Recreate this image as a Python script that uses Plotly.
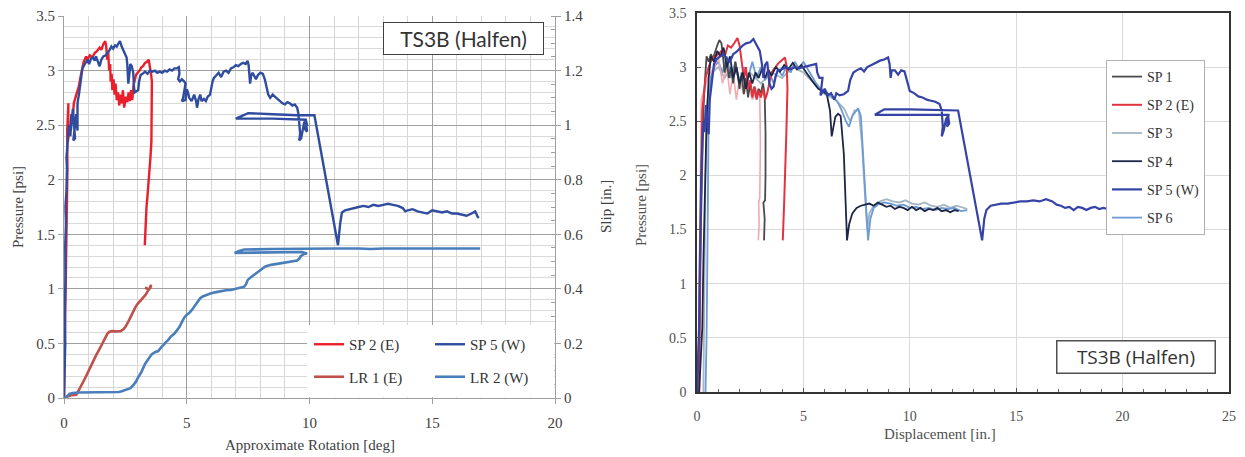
import plotly.graph_objects as go

# ---------------- LEFT CHART DATA (rotation [deg], pressure [psi] / slip [in.]) -------------
L_SP2_X = [0, 0.02, 0.03, 0.05, 0.06, 0.08, 0.1, 0.12, 0.1, 0.14, 0.13, 0.18, 0.16, 0.22, 0.25, 0.3, 0.35, 0.4, 0.5, 0.6,
           0.68, 0.75, 0.8, 0.9, 0.95, 1.05, 1.15, 1.25, 1.35, 1.45, 1.52, 1.6, 1.68, 1.72, 1.76, 1.8, 1.84, 1.88, 1.9, 1.94,
           1.97, 2.02, 2.06, 2.1, 2.15, 2.2, 2.25, 2.3, 2.35, 2.4, 2.45, 2.52, 2.58, 2.63, 2.68, 2.73, 2.78, 2.83, 2.88, 2.93,
           3.0, 3.08, 3.15, 3.22, 3.3, 3.38, 3.45, 3.5, 3.55, 3.58, 3.57, 3.58, 3.55, 3.56, 3.52, 3.48, 3.45, 3.4, 3.36, 3.33,
           3.31, 3.3, 3.29]
L_SP2_P = [0, 0.3, 0.6, 1.0, 1.3, 1.5, 1.7, 1.9, 1.75, 2.1, 2.45, 2.7, 2.35, 2.5, 2.4, 2.6, 2.55, 2.7, 2.78, 2.85,
           2.95, 3.02, 3.08, 3.13, 3.1, 3.14, 3.12, 3.16, 3.18, 3.21, 3.19, 3.24, 3.27, 3.22, 3.1, 3.17, 3.0, 3.06, 2.9, 2.97,
           2.82, 2.92, 2.78, 2.88, 2.73, 2.8, 2.68, 2.78, 2.7, 2.82, 2.66, 2.76, 2.71, 2.8, 2.72, 2.82, 2.73, 2.86, 2.9, 2.96,
           2.98, 3.0, 3.03, 3.04, 3.07, 3.08, 3.1, 3.04, 2.96, 2.9, 2.75, 2.6, 2.42, 2.35, 2.2, 2.05, 1.95, 1.85, 1.75, 1.65,
           1.55, 1.45, 1.4]

L_SP5_X = [0, 0.02, 0.05, 0.03, 0.06, 0.05, 0.08, 0.06, 0.1, 0.12, 0.1, 0.15, 0.2, 0.25, 0.3, 0.28, 0.36, 0.4, 0.45, 0.38,
           0.5, 0.55, 0.55, 0.62, 0.66, 0.72, 0.75, 0.82, 0.9, 0.96, 1.02, 1.1, 1.18, 1.25, 1.3, 1.38, 1.45, 1.52, 1.6, 1.7,
           1.78, 1.86, 1.93, 2.0, 2.08, 2.15, 2.22, 2.28, 2.35, 2.42, 2.5, 2.55, 2.58, 2.6, 2.62, 2.66, 2.7, 2.76, 2.82, 2.85,
           2.88, 2.95, 3.02, 3.06, 3.12, 3.2, 3.3, 3.4, 3.5, 3.6, 3.7, 3.8, 3.9, 4.0, 4.1, 4.2, 4.3, 4.4, 4.5, 4.6,
           4.68, 4.7, 4.65, 4.72, 4.8, 4.9, 4.95, 4.85, 4.8, 4.95, 5.0, 5.05, 5.1, 5.2, 5.3, 5.38, 5.42, 5.48, 5.55, 5.6,
           5.7, 5.78, 5.85, 5.95, 6.0, 6.05, 6.1, 6.2, 6.3, 6.4, 6.5, 6.6, 6.7, 6.8, 6.9, 7.0, 7.1, 7.2, 7.3, 7.4,
           7.48, 7.52, 7.56, 7.58, 7.62, 7.68, 7.75, 7.82, 7.9, 8.0, 8.1, 8.18, 8.25, 8.32, 8.4, 8.5, 8.6, 8.7, 8.8, 8.9,
           9.0, 9.1, 9.2, 9.3, 9.4, 9.5, 9.55, 9.6, 9.62, 9.58, 9.66, 9.72, 9.78, 9.85, 9.9, 9.8, 9.9, 9.85, 8.5, 7.0,
           7.2, 7.5, 8.5, 9.5, 10.2, 11.16, 11.25, 11.32, 11.45, 11.6, 11.8, 12.0, 12.2, 12.4, 12.6, 12.8, 13.0, 13.2, 13.4, 13.6,
           13.8, 13.9, 14.0, 14.2, 14.4, 14.6, 14.8, 15.0, 15.2, 15.4, 15.6, 15.8, 16.0, 16.2, 16.4, 16.6, 16.75, 16.85, 16.9]
L_SP5_P = [0, 0.2, 0.5, 0.8, 1.1, 1.4, 1.6, 1.75, 1.9, 2.1, 2.2, 2.35, 2.5, 2.4, 2.6, 2.45, 2.65, 2.5, 2.38, 2.36,
           2.6, 2.45, 2.7, 2.8, 2.88, 2.95, 3.02, 3.05, 3.08, 3.1, 3.06, 3.11, 3.12, 3.09, 3.13, 3.07, 3.04, 3.1, 3.13, 3.14,
           3.16, 3.19, 3.22, 3.2, 3.23, 3.22, 3.25, 3.27, 3.22, 3.18, 3.15, 3.12, 3.05, 2.95, 2.88, 2.96, 3.06, 3.04, 2.98, 2.85,
           2.8, 2.81, 2.82, 2.9, 2.96, 2.97, 2.99, 2.97, 3.0, 2.99, 3.0, 2.98, 2.99, 2.98, 3.0, 2.99, 3.01, 3.0, 3.02, 3.02,
           3.03, 2.97, 2.92, 2.9, 2.92, 2.9, 2.88, 2.75, 2.72, 2.73, 2.83, 2.8, 2.75, 2.72, 2.78, 2.72, 2.66, 2.74, 2.78, 2.72,
           2.74, 2.72, 2.76, 2.78, 2.85, 2.9, 2.93, 2.96, 2.98, 2.94, 2.99, 3.0, 2.98, 3.02, 3.03, 3.05, 3.04, 3.06, 3.07, 3.06,
           3.09, 3.05, 2.97, 2.88, 2.95, 2.98, 2.95, 2.92, 2.96, 2.98, 2.97, 2.92, 2.85, 2.78, 2.75, 2.78, 2.76, 2.74, 2.72, 2.7,
           2.69, 2.71, 2.7, 2.68, 2.69, 2.66, 2.6, 2.5, 2.42, 2.36, 2.38, 2.45, 2.52, 2.55, 2.5, 2.47, 2.44, 2.55, 2.56, 2.56,
           2.58, 2.61, 2.6, 2.59, 2.59, 1.4, 1.6, 1.7, 1.72, 1.73, 1.74, 1.75, 1.76, 1.75, 1.77, 1.76, 1.77, 1.78, 1.77, 1.76,
           1.74, 1.71, 1.72, 1.73, 1.71, 1.7, 1.69, 1.72, 1.71, 1.7, 1.71, 1.69, 1.69, 1.68, 1.67, 1.69, 1.71, 1.66, 1.65]

L_LR1_X = [0, 0.1, 0.3, 0.5, 0.55, 0.65, 0.76, 0.9, 1.03, 1.15, 1.3, 1.45, 1.57, 1.68, 1.77, 1.85, 1.95, 2.1, 2.3, 2.42,
           2.51, 2.62, 2.71, 2.8, 2.91, 3.0, 3.11, 3.22, 3.32, 3.4, 3.48, 3.55, 3.52, 3.45, 3.35, 3.3]
L_LR1_S = [0, 0.005, 0.01, 0.012, 0.02, 0.035, 0.055, 0.08, 0.105, 0.13, 0.155, 0.18, 0.2, 0.222, 0.236, 0.243, 0.245, 0.244, 0.245, 0.252,
           0.262, 0.28, 0.298, 0.315, 0.333, 0.345, 0.356, 0.367, 0.378, 0.39, 0.4, 0.415, 0.405, 0.398, 0.402, 0.405]

L_LR2_X = [0, 0.1, 0.22, 0.35, 0.6, 1.0, 1.5, 2.0, 2.24, 2.35, 2.44, 2.6, 2.71, 2.8, 2.9, 3.04, 3.15, 3.3, 3.45, 3.57,
           3.7, 3.84, 3.95, 4.04, 4.15, 4.24, 4.35, 4.5, 4.6, 4.7, 4.8, 4.91, 5.0, 5.11, 5.2, 5.31, 5.4, 5.45, 5.55, 5.65,
           5.8, 5.99, 6.2, 6.39, 6.6, 6.8, 7.0, 7.2, 7.34, 7.42, 7.48, 7.6, 7.75, 7.9, 8.02, 8.2, 8.43, 8.7, 9.1, 9.3,
           9.5, 9.6, 9.64, 9.78, 9.9, 9.7, 8.5, 6.95, 7.1, 7.34, 8.5, 9.8, 10.3, 11.0, 12.0, 12.5, 13.0, 14.0, 15.0, 16.0, 16.95]
L_LR2_S = [0, 0.003, 0.015, 0.018, 0.02, 0.02, 0.02, 0.021, 0.022, 0.025, 0.028, 0.032, 0.036, 0.045, 0.055, 0.078, 0.095, 0.125, 0.145, 0.16,
           0.168, 0.172, 0.185, 0.196, 0.205, 0.212, 0.225, 0.236, 0.248, 0.26, 0.278, 0.296, 0.305, 0.312, 0.322, 0.336, 0.348, 0.356, 0.366, 0.372,
           0.378, 0.384, 0.388, 0.392, 0.395, 0.396, 0.4, 0.404, 0.408, 0.418, 0.432, 0.442, 0.452, 0.464, 0.472, 0.482, 0.488, 0.492, 0.496, 0.5,
           0.504, 0.512, 0.52, 0.528, 0.53, 0.535, 0.534, 0.532, 0.538, 0.544, 0.546, 0.548, 0.548, 0.548, 0.548, 0.546, 0.548, 0.548, 0.549, 0.549, 0.548]

# ---------------- RIGHT CHART DATA (displacement [in.], pressure [psi]) -------------
R_SP1_X = [0, 0.1, 0.15, 0.2, 0.25, 0.3, 0.38, 0.45, 0.55, 0.65, 0.75, 0.85, 0.95, 1.05, 1.15, 1.22, 1.3, 1.4, 1.5, 1.6,
           1.7, 1.8, 1.9, 2.0, 2.1, 2.2, 2.3, 2.4, 2.5, 2.6, 2.7, 2.8, 2.9, 3.0, 3.1, 3.18, 3.22, 3.22, 3.2, 3.12, 3.18, 3.15]
R_SP1_P = [0, 0.5, 1.2, 1.8, 2.3, 2.6, 2.9, 3.1, 3.05, 3.12, 3.08, 3.15, 3.2, 3.25, 3.22, 3.1, 2.95, 3.05, 2.9, 3.0,
           2.85, 3.05, 2.95, 2.8, 2.95, 2.75, 2.9, 2.72, 2.85, 2.75, 2.82, 2.72, 2.8, 2.76, 2.85, 2.75, 2.4, 2.0, 1.77, 1.75, 1.6, 1.4]

R_FAINT_X = [0.05, 0.12, 0.2, 0.5, 0.8, 1.0, 1.2, 1.4, 1.55, 1.7, 1.85, 2.0, 2.2, 2.4, 2.6, 2.8, 2.95, 2.98, 2.95, 2.9, 2.92, 2.88]
R_FAINT_P = [0, 1.5, 2.7, 2.9, 3.0, 3.1, 2.85, 3.0, 2.75, 2.95, 2.7, 2.9, 2.75, 2.85, 2.7, 2.8, 2.72, 2.3, 1.8, 1.75, 1.55, 1.4]

R_SP2_X = [0.1, 0.15, 0.2, 0.25, 0.3, 0.4, 0.55, 0.7, 0.85, 1.0, 1.15, 1.3, 1.45, 1.6, 1.75, 1.9, 2.0, 2.1, 2.2, 2.3,
           2.4, 2.5, 2.6, 2.7, 2.8, 2.9, 3.0, 3.1, 3.2, 3.3, 3.4, 3.5, 3.6, 3.7, 3.8, 3.9, 4.0, 4.13, 4.22, 4.25,
           4.2, 4.15, 4.1, 4.05, 4.03]
R_SP2_P = [0, 1.2, 2.0, 2.6, 2.7, 2.9, 3.0, 3.08, 3.1, 3.12, 3.15, 3.1, 3.2, 3.18, 3.22, 3.27, 3.2, 3.05, 2.9, 3.0,
           2.8, 2.88, 2.72, 2.82, 2.7, 2.78, 2.72, 2.8, 2.7, 2.76, 2.86, 2.95, 2.98, 3.0, 3.03, 3.05, 3.07, 3.09, 3.0, 2.8,
           2.4, 2.0, 1.77, 1.5, 1.4]

R_SP3_X = [0.3, 0.35, 0.4, 0.5, 0.7, 1.0, 1.3, 1.6, 2.0, 2.5, 3.0, 3.5, 4.0, 4.5, 5.0, 5.5, 6.0, 6.5, 6.9, 7.2,
           7.4, 7.6, 7.75, 7.9, 8.0, 8.1, 8.3, 8.6, 8.9, 9.2, 9.5, 9.8, 10.1, 10.4, 10.7, 11.0, 11.3, 11.6, 11.9, 12.2,
           12.5, 12.7]
R_SP3_P = [0, 1.0, 2.0, 2.7, 2.95, 3.0, 2.9, 3.0, 2.9, 2.95, 2.85, 2.95, 2.9, 3.0, 2.95, 2.85, 2.75, 2.7, 2.62, 2.5,
           2.6, 2.6, 2.3, 1.8, 1.5, 1.65, 1.72, 1.76, 1.78, 1.76, 1.75, 1.77, 1.74, 1.73, 1.75, 1.72, 1.71, 1.73, 1.7, 1.72,
           1.7, 1.69]

R_SP4_X = [0.1, 0.2, 0.25, 0.3, 0.4, 0.45, 0.55, 0.65, 0.8, 0.95, 1.1, 1.25, 1.4, 1.55, 1.7, 1.85, 2.0, 2.15, 2.3, 2.45,
           2.6, 2.75, 2.9, 3.05, 3.2, 3.35, 3.5, 3.7, 3.9, 4.1, 4.3, 4.5, 4.7, 4.9, 5.1, 5.3, 5.5, 5.7, 5.9, 6.1,
           6.25, 6.33, 6.4, 6.5, 6.63, 6.75, 6.9, 7.0, 7.05, 7.15, 7.3, 7.5, 7.7, 7.9, 8.1, 8.3, 8.5, 8.7, 8.9, 9.1,
           9.3, 9.5, 9.7, 9.9, 10.1, 10.3, 10.5, 10.7, 10.9, 11.1, 11.3, 11.5, 11.7, 11.9, 12.1, 12.3]
R_SP4_P = [0, 0.35, 0.6, 1.2, 2.0, 2.5, 2.9, 3.1, 3.05, 3.15, 3.1, 3.18, 3.0, 3.1, 2.9, 3.0, 2.85, 2.95, 2.8, 2.95,
           2.85, 2.95, 2.9, 2.98, 2.9, 2.98, 2.92, 3.0, 2.96, 3.02, 2.98, 3.04, 2.98, 3.02, 2.96, 2.9, 2.85, 2.8, 2.78, 2.75,
           2.6, 2.36, 2.45, 2.54, 2.57, 2.55, 2.2, 1.7, 1.4, 1.55, 1.65, 1.7, 1.72, 1.73, 1.74, 1.72, 1.75, 1.73, 1.71, 1.72,
           1.69, 1.71, 1.7, 1.68, 1.71, 1.68, 1.7, 1.67, 1.69, 1.68, 1.7, 1.67, 1.68, 1.66, 1.68, 1.67]

R_SP5_X = [0, 0.05, 0.1, 0.12, 0.15, 0.2, 0.25, 0.3, 0.35, 0.42, 0.5, 0.55, 0.6, 0.7, 0.8, 0.95, 1.1, 1.25, 1.4, 1.55,
           1.7, 1.85, 2.0, 2.15, 2.3, 2.5, 2.65, 2.8, 2.95, 3.05, 3.12, 3.2, 3.3, 3.4, 3.5, 3.6, 3.7, 3.8, 4.0, 4.2,
           4.4, 4.6, 4.8, 5.0, 5.2, 5.4, 5.6, 5.65, 5.75, 5.9, 5.8, 6.0, 6.15, 6.3, 6.45, 6.55, 6.7, 6.9, 7.1, 7.2,
           7.35, 7.5, 7.7, 7.85, 8.0, 8.2, 8.4, 8.6, 8.8, 8.98, 9.05, 9.1, 9.15, 9.3, 9.45, 9.6, 9.75, 9.9, 10.0, 10.2,
           10.4, 10.6, 10.8, 11.0, 11.2, 11.4, 11.5, 11.55, 11.5, 11.6, 11.7, 11.8, 11.85, 11.75, 11.82, 10.0, 8.36, 8.8, 10.0, 12.27,
           13.4, 13.5, 13.6, 13.8, 14.0, 14.3, 14.6, 14.9, 15.2, 15.5, 15.8, 16.1, 16.4, 16.7, 16.9, 17.1, 17.3, 17.5, 17.7, 17.9,
           18.1, 18.3, 18.5, 18.7, 18.9, 19.1, 19.3]
R_SP5_P = [0, 0.35, 0.6, 1.0, 1.5, 2.0, 2.3, 2.5, 2.4, 2.65, 2.45, 2.38, 2.7, 2.9, 3.03, 3.08, 3.1, 3.12, 3.08, 3.05,
           3.12, 3.14, 3.17, 3.2, 3.22, 3.23, 3.26, 3.2, 3.15, 3.03, 2.9, 3.02, 3.05, 2.85, 2.8, 2.82, 2.92, 2.97, 2.98, 3.0,
           2.98, 3.0, 2.99, 3.0, 3.01, 3.02, 3.03, 2.95, 2.9, 2.9, 2.74, 2.8, 2.74, 2.76, 2.7, 2.76, 2.74, 2.75, 2.78, 2.88,
           2.95, 2.97, 2.99, 2.96, 3.0, 3.02, 3.04, 3.06, 3.07, 3.09, 3.03, 2.9, 2.97, 2.97, 2.93, 2.97, 2.96, 2.86, 2.78, 2.76,
           2.73, 2.72, 2.7, 2.69, 2.68, 2.66, 2.6, 2.45, 2.36, 2.42, 2.52, 2.55, 2.48, 2.45, 2.56, 2.56, 2.56, 2.61, 2.61, 2.6,
           1.4, 1.6, 1.68, 1.72, 1.73, 1.74, 1.74, 1.75, 1.76, 1.76, 1.77, 1.76, 1.78, 1.76, 1.73, 1.72, 1.7, 1.71, 1.68, 1.71,
           1.7, 1.68, 1.7, 1.71, 1.69, 1.7, 1.69]

R_SP6_X = [0.4, 0.45, 0.5, 0.52, 0.55, 0.65, 0.8, 1.0, 1.2, 1.4, 1.6, 1.8, 2.0, 2.2, 2.4, 2.6, 2.8, 3.0, 3.2, 3.4,
           3.6, 3.8, 4.0, 4.2, 4.4, 4.6, 4.8, 5.0, 5.2, 5.4, 5.6, 5.8, 6.0, 6.2, 6.4, 6.6, 6.8, 7.0, 7.14, 7.3,
           7.57, 7.7, 7.85, 7.95, 8.04, 8.15, 8.3, 8.5, 8.8, 9.1, 9.4, 9.7, 10.0, 10.3, 10.6, 10.9, 11.2, 11.5, 11.8, 12.1,
           12.4, 12.7]
R_SP6_P = [0, 0.5, 1.5, 2.2, 2.6, 2.9, 3.0, 3.05, 2.95, 3.1, 2.9, 3.05, 2.85, 3.0, 2.9, 3.05, 2.9, 3.0, 2.88, 2.95,
           2.85, 2.98, 2.92, 3.0, 2.95, 3.05, 2.98, 3.05, 2.98, 2.92, 2.85, 2.8, 2.78, 2.75, 2.72, 2.68, 2.6, 2.5, 2.45, 2.55,
           2.62, 2.55, 2.1, 1.7, 1.4, 1.6, 1.7, 1.73, 1.75, 1.74, 1.72, 1.73, 1.7, 1.71, 1.69, 1.7, 1.68, 1.7, 1.69, 1.7,
           1.67, 1.68]

LEFT_XTICKS = [0, 5, 10, 15, 20]
RIGHT_XTICKS = [0, 5, 10, 15, 20, 25]

W, H = 1245, 457
SERIF = "Liberation Serif"

fig = go.Figure()

def add(x, y, name, color, width, xa, ya, legend, rank, show=True, group=None):
    fig.add_trace(go.Scatter(x=x, y=y, mode="lines", name=name,
                             line=dict(color=color, width=width),
                             xaxis=xa, yaxis=ya, legend=legend, legendrank=rank,
                             legendgroup=group or name, showlegend=show,
                             hoverinfo="skip"))

# left chart
add(L_LR1_X, L_LR1_S, "LR 1 (E)", "#c0504d", 2.6, "x", "y2", "legend", 2)
add(L_LR2_X, L_LR2_S, "LR 2 (W)", "#4a7ebb", 2.6, "x", "y2", "legend2", 2)
add(L_SP2_X, L_SP2_P, "SP 2 (E)", "#ea1f2b", 2.4, "x", "y", "legend", 1)
add(L_SP5_X, L_SP5_P, "SP 5 (W)", "#2f4c9f", 2.4, "x", "y", "legend2", 1)

# right chart
add(R_SP3_X, R_SP3_P, "SP 3", "#a3b6c2", 1.8, "x2", "y3", "legend3", 3)
add(R_SP6_X, R_SP6_P, "SP 6", "#6d9bd2", 1.8, "x2", "y3", "legend3", 6)
add(R_FAINT_X, R_FAINT_P, "faint", "#f0aab2", 1.6, "x2", "y3", "legend3", 9, show=False)
add(R_SP1_X, R_SP1_P, "SP 1", "#4a4a4a", 1.8, "x2", "y3", "legend3", 1)
add(R_SP2_X, R_SP2_P, "SP 2 (E)", "#e2343f", 2.0, "x2", "y3", "legend3", 2, group="r2")
add(R_SP4_X, R_SP4_P, "SP 4", "#1d2548", 1.8, "x2", "y3", "legend3", 4)
add(R_SP5_X, R_SP5_P, "SP 5 (W)", "#3543a6", 2.2, "x2", "y3", "legend3", 5, group="r5")

tickfont = dict(family=SERIF, size=15, color="#404040")
rtickfont = dict(family=SERIF, size=14, color="#505050")

fig.update_layout(
    width=W, height=H, margin=dict(l=0, r=0, t=0, b=0, autoexpand=False),
    paper_bgcolor="white", plot_bgcolor="rgba(0,0,0,0)",
    xaxis=dict(domain=[64 / W, 555 / W], range=[0, 20], tickvals=LEFT_XTICKS, anchor="y", automargin=False,
               showgrid=True, gridcolor="#a0a0a0", gridwidth=1,
               minor=dict(dtick=1, showgrid=True, gridcolor="#d6d6d6", gridwidth=1),
               showline=True, linecolor="#a0a0a0", linewidth=1, zeroline=False,
               ticks="outside", ticklen=5, tickcolor="#a0a0a0", tickfont=tickfont,
               ticklabelstandoff=6),
    yaxis=dict(domain=[(H - 398) / H, (H - 16) / H], range=[0, 3.5], dtick=0.5, anchor="x", automargin=False,
               showgrid=True, gridcolor="#a0a0a0", gridwidth=1,
               minor=dict(dtick=0.1, showgrid=True, gridcolor="#d9d9d9", gridwidth=1),
               showline=True, linecolor="#a0a0a0", linewidth=1, zeroline=False,
               ticks="outside", ticklen=5, tickcolor="#a0a0a0", tickfont=tickfont,
               tickformat="~g"),
    yaxis2=dict(overlaying="y", side="right", anchor="x", range=[0, 1.4], dtick=0.2, automargin=False,
                showgrid=False, showline=True, linecolor="#a0a0a0", linewidth=1, zeroline=False,
                ticks="outside", ticklen=5, tickcolor="#a0a0a0", tickfont=tickfont, tickformat="~g",
                minor=dict(dtick=0.05, ticks="inside", ticklen=4, tickcolor="#a0a0a0", showgrid=False)),
    xaxis2=dict(domain=[697 / W, 1229 / W], range=[0, 25], tickvals=RIGHT_XTICKS, anchor="y3", automargin=False,
                showgrid=True, gridcolor="#dadada", gridwidth=1,
                minor=dict(dtick=1, ticks="inside", ticklen=3, tickcolor="#666", showgrid=False),
                showline=True, mirror=True, linecolor="#333333", linewidth=1.5, zeroline=False,
                ticks="inside", ticklen=4, tickcolor="#555", tickfont=rtickfont, ticklabelstandoff=10),
    yaxis3=dict(domain=[(H - 392) / H, (H - 13) / H], range=[0, 3.5], dtick=0.5, anchor="x2", automargin=False,
                showgrid=True, gridcolor="#dadada", gridwidth=1,
                showline=True, mirror=True, linecolor="#333333", linewidth=1.5, zeroline=False,
                ticks="inside", ticklen=4, tickcolor="#555", tickfont=rtickfont, tickformat="~g",
                ticklabelstandoff=6),
    legend=dict(x=309 / W, y=(H - 328) / H, xanchor="left", yanchor="top", bgcolor="rgba(0,0,0,0)",
                font=dict(family=SERIF, size=15, color="#333"), itemwidth=30, tracegroupgap=10,
                traceorder="grouped"),
    legend2=dict(x=430 / W, y=(H - 328) / H, xanchor="left", yanchor="top", bgcolor="rgba(0,0,0,0)",
                 font=dict(family=SERIF, size=15, color="#333"), itemwidth=30, tracegroupgap=10,
                 traceorder="grouped"),
    legend3=dict(x=1106 / W, y=(H - 60) / H, xanchor="left", yanchor="top", bgcolor="white",
                 bordercolor="#b0b0b0", borderwidth=1,
                 font=dict(family=SERIF, size=14, color="#333"), itemwidth=30, tracegroupgap=7,
                 traceorder="grouped"),
    shapes=[dict(type="rect", xref="paper", yref="paper", x0=307 / W, x1=554.3 / W,
                 y0=(H - 397.2) / H, y1=(H - 325) / H, fillcolor="white", line=dict(width=0), layer="above")],
    annotations=[
        dict(text="TS3B (Halfen)", xref="paper", yref="paper", x=463.5 / W, y=(H - 38.5) / H,
             xanchor="center", yanchor="middle", showarrow=False, width=157, height=29,
             bgcolor="white", bordercolor="#404040", borderwidth=1, borderpad=1,
             font=dict(family="Lato", size=21, color="#333")),
        dict(text="TS3B (Halfen)", xref="paper", yref="paper", x=1135.5 / W, y=(H - 356.5) / H,
             xanchor="center", yanchor="middle", showarrow=False, width=155, height=29,
             bgcolor="white", bordercolor="#505050", borderwidth=1.5, borderpad=1,
             font=dict(family="Open Sans", size=19, color="#333")),
        dict(text="Approximate Rotation [deg]", xref="paper", yref="paper", x=310 / W, y=(H - 445) / H,
             xanchor="center", yanchor="middle", showarrow=False,
             font=dict(family=SERIF, size=15, color="#404040")),
        dict(text="Pressure [psi]", xref="paper", yref="paper", x=18 / W, y=(H - 207) / H,
             xanchor="center", yanchor="middle", showarrow=False, textangle=-90,
             font=dict(family=SERIF, size=15, color="#404040")),
        dict(text="Slip [in.]", xref="paper", yref="paper", x=606 / W, y=(H - 207) / H,
             xanchor="center", yanchor="middle", showarrow=False, textangle=-90,
             font=dict(family=SERIF, size=15, color="#404040")),
        dict(text="Displacement [in.]", xref="paper", yref="paper", x=940 / W, y=(H - 434) / H,
             xanchor="center", yanchor="middle", showarrow=False,
             font=dict(family=SERIF, size=15, color="#505050")),
        dict(text="Pressure [psi]", xref="paper", yref="paper", x=641 / W, y=(H - 205) / H,
             xanchor="center", yanchor="middle", showarrow=False, textangle=-90,
             font=dict(family=SERIF, size=15, color="#505050")),
    ],
)

fig.write_html("out.html", config={"displayModeBar": False},
               post_script="document.body.style.margin='0';document.body.style.padding='0';")
